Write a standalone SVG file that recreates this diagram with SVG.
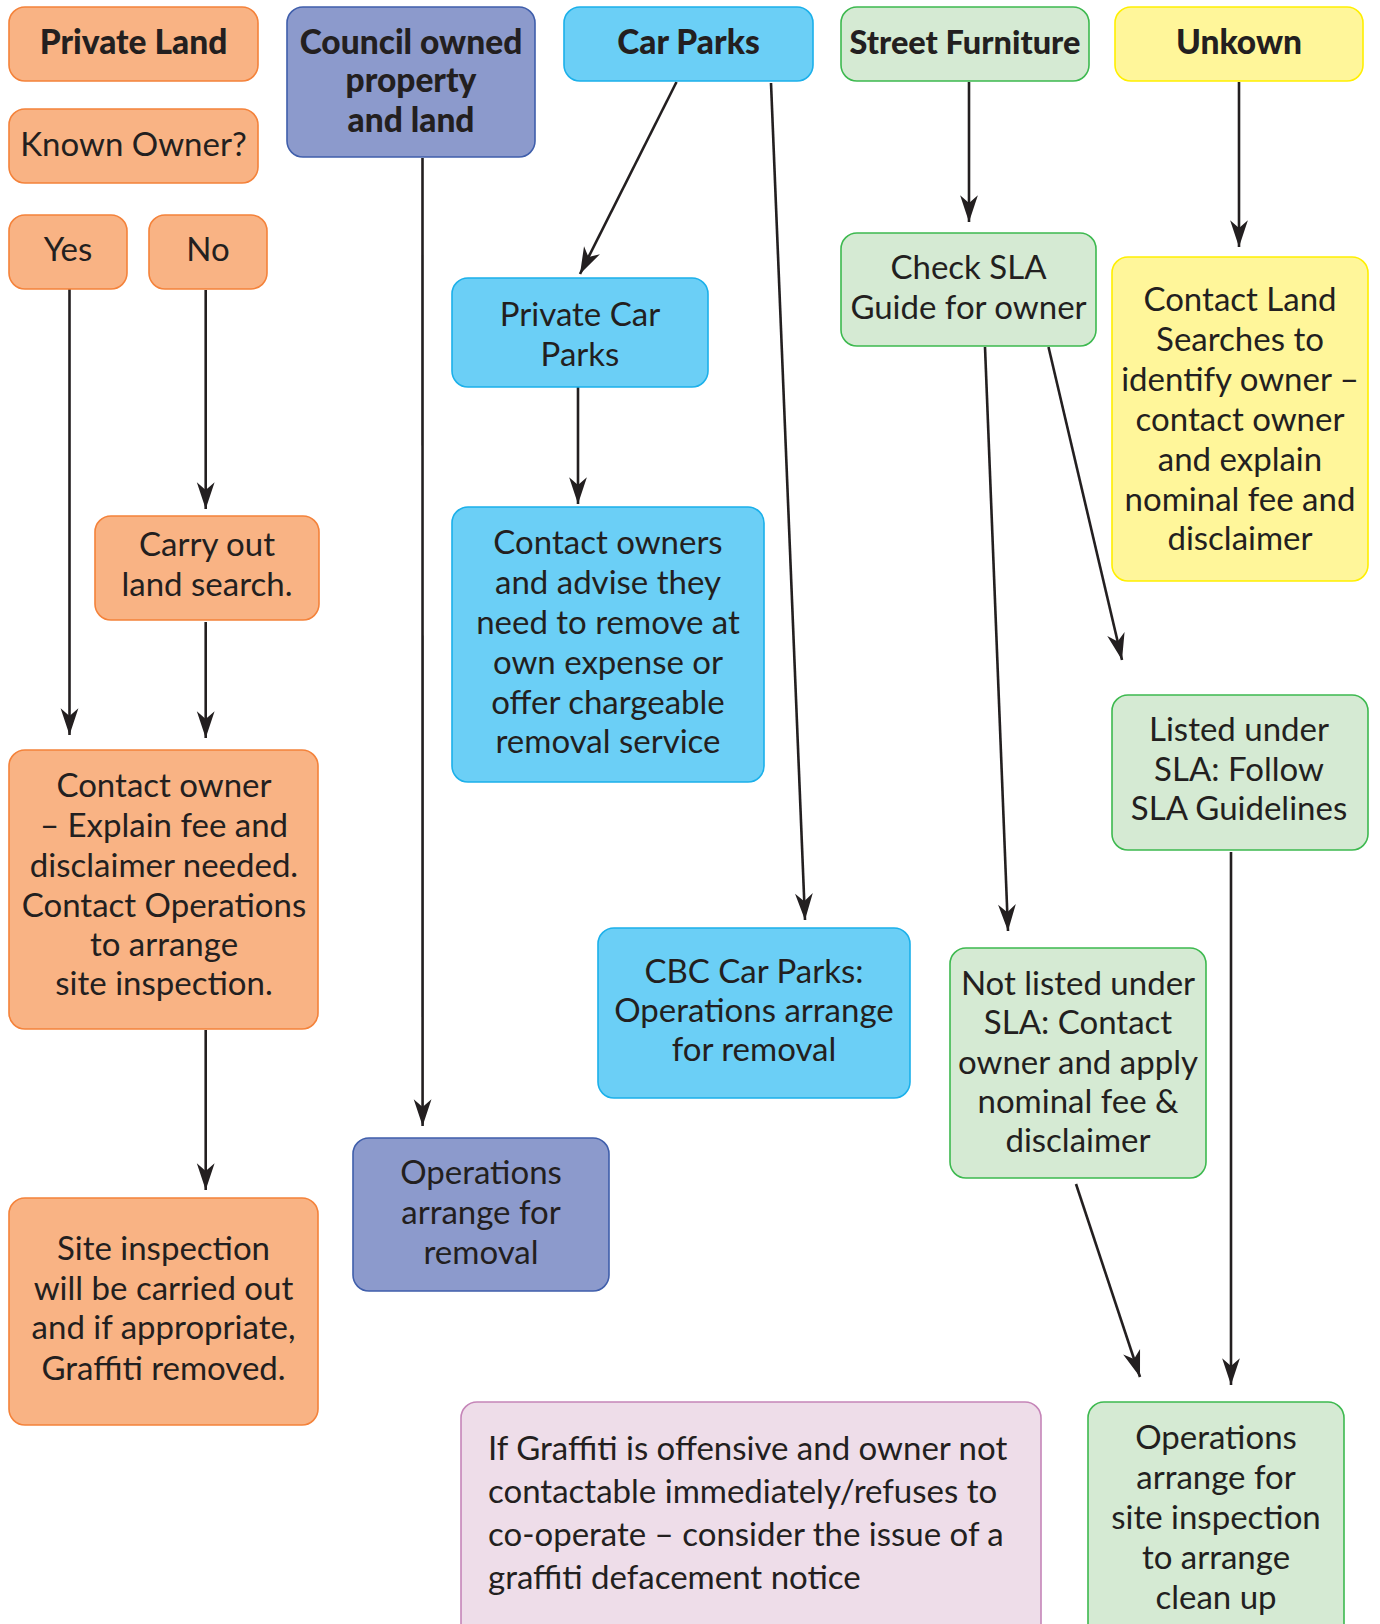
<svg xmlns="http://www.w3.org/2000/svg" width="1380" height="1624" viewBox="0 0 1380 1624">
<style>
.box{stroke-width:1.6}
.or{fill:#F9B384;stroke:#F4823A}
.pu{fill:#8C9ACC;stroke:#3F5EAB}
.cy{fill:#6BCFF6;stroke:#1BB0EA}
.gr{fill:#D5EAD3;stroke:#3DB94F}
.ye{fill:#FFF69A;stroke:#FFEF00}
.pk{fill:#EEDDE9;stroke:#C585B8}
text{font-family:Lato,"Noto Sans",sans-serif;fill:#231F20;font-size:33px;text-anchor:middle}
.h{font-weight:900;font-size:33.5px}
.l{text-anchor:start}
.con line{stroke:#231F20;stroke-width:2.6;fill:none;marker-end:url(#ah)}
</style>
<defs>
<marker id="ah" markerUnits="userSpaceOnUse" markerWidth="30" markerHeight="20" viewBox="-24 -9 26 18" refX="0" refY="0" orient="auto">
<path d="M0,0 L-24,-8 L-17,0 L-24,8 Z" fill="#231F20"/>
</marker>
</defs>
<rect width="1380" height="1624" fill="#FFFFFF"/>
<g class="con">
<line x1="69.5" y1="289" x2="69.5" y2="735"/>
<line x1="205.7" y1="290" x2="205.7" y2="509"/>
<line x1="205.7" y1="622" x2="205.7" y2="738"/>
<line x1="205.7" y1="1030" x2="205.7" y2="1190"/>
<line x1="422.5" y1="158" x2="422.6" y2="1126"/>
<line x1="676.5" y1="82" x2="580" y2="274"/>
<line x1="771" y1="83" x2="805" y2="920"/>
<line x1="578" y1="387" x2="578" y2="504"/>
<line x1="969" y1="82" x2="969" y2="222"/>
<line x1="1239" y1="82" x2="1239" y2="247"/>
<line x1="985" y1="347" x2="1008" y2="931"/>
<line x1="1048.5" y1="347" x2="1122" y2="660"/>
<line x1="1231" y1="852" x2="1231" y2="1385"/>
<line x1="1076" y1="1184" x2="1140" y2="1377"/>
</g>
<g id="private-land"><rect class="box or" x="9" y="7" width="249" height="74" rx="16"/><text class="h" x="133.5" y="54">Private Land</text></g>
<g id="known-owner"><rect class="box or" x="9" y="109" width="249" height="74" rx="16"/><text x="133.5" y="156">Known Owner?</text></g>
<g id="yes"><rect class="box or" x="9" y="215" width="118" height="74" rx="16"/><text x="68" y="261">Yes</text></g>
<g id="no"><rect class="box or" x="149" y="215" width="118" height="74" rx="16"/><text x="208" y="261">No</text></g>
<g id="council"><rect class="box pu" x="287" y="7" width="248" height="150" rx="16"/><text class="h" x="411" y="54">Council owned</text><text class="h" x="411" y="92">property</text><text class="h" x="411" y="132">and land</text></g>
<g id="car-parks"><rect class="box cy" x="564" y="7" width="249" height="74" rx="16"/><text class="h" x="688.5" y="54">Car Parks</text></g>
<g id="street-furniture"><rect class="box gr" x="841" y="7" width="248" height="74" rx="16"/><text class="h" x="965" y="54" style="font-size:32.5px">Street Furniture</text></g>
<g id="unkown"><rect class="box ye" x="1115" y="7" width="248" height="74" rx="16"/><text class="h" x="1239" y="54">Unkown</text></g>
<g id="check-sla"><rect class="box gr" x="841" y="233" width="255" height="113" rx="16"/><text x="968.5" y="279">Check SLA</text><text x="968.5" y="319">Guide for owner</text></g>
<g id="contact-land"><rect class="box ye" x="1112" y="257" width="256" height="324" rx="16"/><text x="1240" y="311">Contact Land</text><text x="1240" y="351">Searches to</text><text x="1240" y="391">identify owner –</text><text x="1240" y="431">contact owner</text><text x="1240" y="471">and explain</text><text x="1240" y="511">nominal fee and</text><text x="1240" y="550">disclaimer</text></g>
<g id="private-car-parks"><rect class="box cy" x="452" y="278" width="256" height="109" rx="16"/><text x="580" y="326">Private Car</text><text x="580" y="366">Parks</text></g>
<g id="contact-owners"><rect class="box cy" x="452" y="507" width="312" height="275" rx="16"/><text x="608" y="554">Contact owners</text><text x="608" y="594">and advise they</text><text x="608" y="634">need to remove at</text><text x="608" y="674">own expense or</text><text x="608" y="714">offer chargeable</text><text x="608" y="753">removal service</text></g>
<g id="carry-out"><rect class="box or" x="95" y="516" width="224" height="104" rx="16"/><text x="207" y="556">Carry out</text><text x="207" y="596">land search.</text></g>
<g id="contact-owner"><rect class="box or" x="9" y="750" width="309" height="279" rx="16"/><text x="164" y="797">Contact owner</text><text x="164" y="837">– Explain fee and</text><text x="164" y="877">disclaimer needed.</text><text x="164" y="917">Contact Operations</text><text x="164" y="956">to arrange</text><text x="164" y="995">site inspection.</text></g>
<g id="listed-sla"><rect class="box gr" x="1112" y="695" width="256" height="155" rx="16"/><text x="1239" y="741">Listed under</text><text x="1239" y="781">SLA: Follow</text><text x="1239" y="820">SLA Guidelines</text></g>
<g id="cbc-car-parks"><rect class="box cy" x="598" y="928" width="312" height="170" rx="16"/><text x="754" y="983">CBC Car Parks:</text><text x="754" y="1022">Operations arrange</text><text x="754" y="1061">for removal</text></g>
<g id="not-listed"><rect class="box gr" x="950" y="948" width="256" height="230" rx="16"/><text x="1078" y="995">Not listed under</text><text x="1078" y="1034">SLA: Contact</text><text x="1078" y="1074">owner and apply</text><text x="1078" y="1113">nominal fee &amp;</text><text x="1078" y="1152">disclaimer</text></g>
<g id="council-ops"><rect class="box pu" x="353" y="1138" width="256" height="153" rx="16"/><text x="481" y="1184">Operations</text><text x="481" y="1224">arrange for</text><text x="481" y="1264">removal</text></g>
<g id="site-inspection"><rect class="box or" x="9" y="1198" width="309" height="227" rx="16"/><text x="163.5" y="1260">Site inspection</text><text x="163.5" y="1300">will be carried out</text><text x="163.5" y="1339">and if appropriate,</text><text x="163.5" y="1380">Graffiti removed.</text></g>
<g id="graffiti-note"><rect class="box pk" x="461" y="1402" width="580" height="260" rx="16"/><text class="l" x="488" y="1460">If Graffiti is offensive and owner not</text><text class="l" x="488" y="1503">contactable immediately/refuses to</text><text class="l" x="488" y="1546">co-operate – consider the issue of a</text><text class="l" x="488" y="1589">graffiti defacement notice</text></g>
<g id="final-ops"><rect class="box gr" x="1088" y="1402" width="256" height="260" rx="16"/><text x="1216" y="1449">Operations</text><text x="1216" y="1489">arrange for</text><text x="1216" y="1529">site inspection</text><text x="1216" y="1569">to arrange</text><text x="1216" y="1609">clean up</text></g>
</svg>
